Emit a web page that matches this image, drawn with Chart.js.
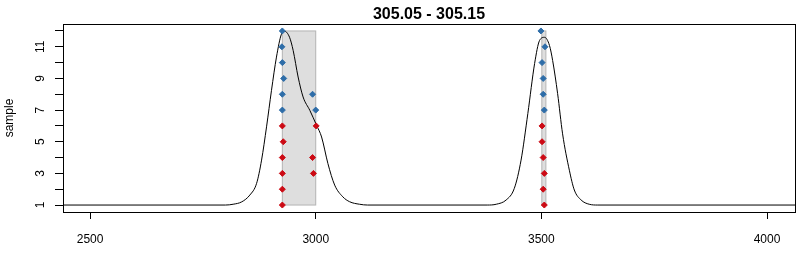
<!DOCTYPE html>
<html>
<head>
<meta charset="utf-8">
<script src="https://cdn.jsdelivr.net/npm/chart.js@4"></script>
<style>
  html, body { margin: 0; padding: 0; background: #fff; }
  #wrap { width: 800px; height: 257px; }
</style>
</head>
<body>
<div id="wrap"><canvas id="peakChart" width="800" height="257"></canvas></div>
<script>
const titleText = '305.05 - 305.15';
const yTitle = 'sample';

// trace (black curve)
const traceX = [2400, 2800, 2817, 2836, 2854, 2869, 2880, 2891, 2902, 2913, 2924, 2931, 2942, 2950, 2961, 2972, 2987, 3002, 3013, 3027, 3042, 3060, 3075, 3097, 3115,
                3380, 3400, 3422, 3440, 3455, 3470, 3485, 3496, 3507, 3518, 3525, 3536, 3547, 3562, 3573, 3588, 3606, 3625, 4100];
const traceY = [1, 1, 1.05, 1.2, 1.63, 2.37, 3.84, 5.94, 8.25, 10.35, 11.8, 11.98, 11.6, 10.77, 9.09, 7.83, 6.98, 6.03, 5.3, 3.62, 2.26, 1.52, 1.21, 1.05, 1,
                1, 1.05, 1.32, 2.05, 3.84, 6.78, 9.94, 11.4, 11.6, 11.08, 10.13, 8.04, 5.5, 3.2, 1.95, 1.32, 1.05, 1, 1];

// shaded windows
const rectX0 = [2926, 3501];
const rectX1 = [3000, 3510];
const rectY0 = [1, 1];
const rectY1 = [12, 12];

// samples 7-12
const blueX = [2926, 2925, 2926, 2929, 2926, 2926, 2993, 3000, 3499, 3508, 3501.5, 3504, 3504, 3506.5];
const blueY = [12, 11, 10, 9, 8, 7, 8, 7, 12, 11, 10, 9, 8, 7];
// samples 1-6
const redX = [2926, 2928, 2926, 2926, 2926, 2926, 3001, 2993, 2995, 3501.5, 3501.5, 3504, 3506.5, 3504, 3506.5];
const redY = [6, 5, 4, 3, 2, 1, 6, 4, 3, 6, 5, 4, 3, 2, 1];

const xTicks = [2500, 3000, 3500, 4000];
const yTicks = [1, 2, 3, 4, 5, 6, 7, 8, 9, 10, 11, 12];
const yTickLabels = [1, 3, 5, 7, 9, 11];

const pts = (xs, ys) => xs.map((x, i) => ({ x: x, y: ys[i] }));

const boxPlugin = {
    id: 'boxPlugin',
    beforeDatasetsDraw(chart) {
        const { ctx, scales: { x, y } } = chart;
        ctx.save();
        ctx.fillStyle = '#dedede';
        ctx.strokeStyle = '#b4b4b4';
        ctx.lineWidth = 1;
        for (let i = 0; i < rectX0.length; i++) {
            const l = x.getPixelForValue(rectX0[i]);
            const r = x.getPixelForValue(rectX1[i]);
            const t = y.getPixelForValue(rectY1[i]);
            const b = y.getPixelForValue(rectY0[i]);
            ctx.fillRect(l, t, r - l, b - t);
            ctx.strokeRect(l, t, r - l, b - t);
        }
        ctx.restore();
    },
    afterDraw(chart) {
        const { ctx, chartArea: a, scales: { y } } = chart;
        ctx.save();
        ctx.strokeStyle = '#000';
        ctx.lineWidth = 1;
        ctx.strokeRect(Math.round(a.left) + 0.5, Math.round(a.top) + 0.5, Math.round(a.right - a.left), Math.round(a.bottom - a.top));
        // rotated y labels, like R
        ctx.fillStyle = '#000';
        ctx.font = '12px "Liberation Sans", Arial, sans-serif';
        ctx.textAlign = 'center';
        ctx.textBaseline = 'middle';
        yTickLabels.forEach(v => {
            ctx.save();
            ctx.translate(41, y.getPixelForValue(v));
            ctx.rotate(-Math.PI / 2);
            ctx.fillText(String(v), 0, 0);
            ctx.restore();
        });
        // title
        ctx.font = 'bold 16px "Liberation Sans", Arial, sans-serif';
        ctx.fillText(titleText, (a.left + a.right) / 2, 15);
        ctx.restore();
    }
};

const ctx = document.getElementById('peakChart').getContext('2d');
const chart = new Chart(ctx, {
    type: 'scatter',
    data: {
        datasets: [
            {
                label: 'red',
                data: pts(redX, redY),
                backgroundColor: '#cc0a14',
                borderColor: '#cc0a14',
                pointStyle: 'rectRot',
                pointRadius: 3,
                borderWidth: 1,
                order: 1
            },
            {
                label: 'blue',
                data: pts(blueX, blueY),
                backgroundColor: '#2e6da8',
                borderColor: '#2e6da8',
                pointStyle: 'rectRot',
                pointRadius: 3,
                borderWidth: 1,
                order: 2
            },
            {
                label: 'trace',
                data: pts(traceX, traceY),
                showLine: true,
                borderColor: '#000',
                borderWidth: 1,
                pointRadius: 0,
                cubicInterpolationMode: 'monotone',
                order: 3
            }
        ]
    },
    options: {
        responsive: false,
        animation: false,
        layout: { padding: { top: 24, right: 5, left: 0, bottom: 0 } },
        plugins: {
            legend: { display: false },
            tooltip: { enabled: false }
        },
        scales: {
            x: {
                type: 'linear',
                min: 2440,
                max: 4062,
                afterBuildTicks: s => { s.ticks = xTicks.map(v => ({ value: v })); },
                afterFit: s => { s.height = 45; },
                border: { display: false },
                grid: { drawOnChartArea: false, drawTicks: true, tickLength: 7, color: '#000' },
                ticks: {
                    color: '#000',
                    padding: 13,
                    maxRotation: 0,
                    callback: v => String(v),
                    font: { family: '"Liberation Sans", Arial, sans-serif', size: 12 }
                }
            },
            y: {
                type: 'linear',
                min: 0.56,
                max: 12.44,
                afterBuildTicks: s => { s.ticks = yTicks.map(v => ({ value: v })); },
                afterFit: s => { s.width = 63; },
                border: { display: false },
                grid: { drawOnChartArea: false, drawTicks: true, tickLength: 8, color: '#000' },
                ticks: { display: false },
                title: {
                    display: true,
                    text: yTitle,
                    color: '#000',
                    padding: { top: 2, bottom: 0 },
                    font: { family: '"Liberation Sans", Arial, sans-serif', size: 12 }
                }
            }
        }
    },
    plugins: [boxPlugin]
});
</script>
</body>
</html>
